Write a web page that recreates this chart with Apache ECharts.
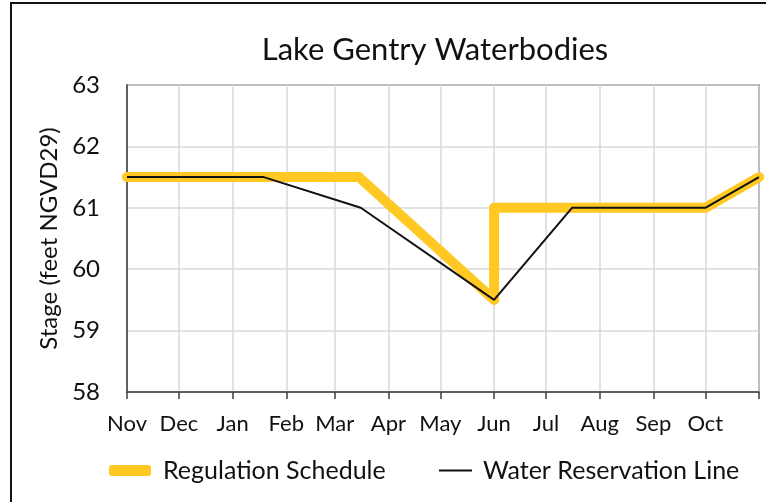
<!DOCTYPE html>
<html>
<head>
<meta charset="utf-8">
<script src="https://cdn.jsdelivr.net/npm/echarts@6/dist/echarts.min.js"></script>
<style>html,body{margin:0;padding:0;background:#fff;}#c{width:766px;height:502px;}</style>
</head>
<body>
<div id="c"></div>
<script>
// Month start positions (days from Nov 1) and labels
const monthDays = [0, 30, 61, 92, 120, 151, 181, 212, 242, 273, 304, 334, 365];
const monthLabels = ['Nov','Dec','Jan','Feb','Mar','Apr','May','Jun','Jul','Aug','Sep','Oct',''];
const yTicks = [58, 59, 60, 61, 62, 63];

// Regulation Schedule: [day, stage]
const regDays = [0, 134, 212, 212, 334, 365];
const regStage = [61.5, 61.5, 59.5, 61.0, 61.0, 61.5];
// Water Reservation Line: [day, stage]
const wrlDays = [0, 79, 135, 212, 257, 334, 365];
const wrlStage = [61.5, 61.5, 61.0, 59.5, 61.0, 61.0, 61.5];

const FONT = 'Lato';
const chart = echarts.init(document.getElementById('c'), null, {renderer: 'canvas'});
chart.setOption({
  animation: false,
  backgroundColor: '#fff',
  title: {
    text: 'Lake Gentry Waterbodies',
    left: 430, textAlign: 'center', top: 29,
    textStyle: {fontFamily: FONT, fontSize: 31, fontWeight: 'normal', color: '#111'}
  },
  graphic: [{
    type: 'rect', shape: {x: 11, y: 3, width: 800, height: 600},
    style: {fill: 'none', stroke: '#111', lineWidth: 2}, silent: true
  }],
  grid: {left: 127, right: 7, top: 85, bottom: 110, show: true, borderColor: '#404040', borderWidth: 1.5, backgroundColor: 'transparent'},
  xAxis: {
    type: 'value', min: 0, max: 365,
    axisLine: {show: true, lineStyle: {color: '#404040', width: 1.5}},
    axisTick: {show: true, inside: false, length: 7, customValues: monthDays, lineStyle: {color: '#404040', width: 1.5}},
    axisLabel: {
      customValues: monthDays.slice(0, 12), margin: 21,
      fontFamily: FONT, fontSize: 22, color: '#111',
      formatter: v => monthLabels[monthDays.indexOf(v)] || ''
    },
    splitLine: {show: true, lineStyle: {color: '#d9d9d9', width: 1.5}}
  },
  yAxis: {
    type: 'value', min: yTicks[0], max: yTicks[yTicks.length - 1], interval: 1,
    name: 'Stage (feet NGVD29)', nameLocation: 'middle', nameGap: 64,
    nameTextStyle: {fontFamily: FONT, fontSize: 24, color: '#111'},
    axisLine: {show: true, lineStyle: {color: '#404040', width: 1.5}},
    axisTick: {show: false},
    axisLabel: {margin: 27, fontFamily: FONT, fontSize: 24, color: '#111'},
    splitLine: {show: true, lineStyle: {color: '#d9d9d9', width: 1.5}}
  },
  legend: [{
    data: ['Regulation Schedule'], left: 104, top: 453,
    icon: 'roundRect', itemWidth: 42, itemHeight: 11,
    textStyle: {fontFamily: FONT, fontSize: 25, color: '#111', padding: [0, 0, 0, 7]}
  }, {
    data: ['Water Reservation Line'], left: 434, top: 453,
    icon: 'rect', itemWidth: 33, itemHeight: 2,
    textStyle: {fontFamily: FONT, fontSize: 25, color: '#111', padding: [0, 0, 0, 6]}
  }],
  series: [{
    name: 'Regulation Schedule', type: 'line', showSymbol: false,
    data: regDays.map((d, i) => [d, regStage[i]]),
    lineStyle: {color: '#FFC822', width: 10, cap: 'round', join: 'round'},
    itemStyle: {color: '#FFC822'}, z: 2
  }, {
    name: 'Water Reservation Line', type: 'line', showSymbol: false,
    data: wrlDays.map((d, i) => [d, wrlStage[i]]),
    lineStyle: {color: '#111', width: 2},
    itemStyle: {color: '#111'}, z: 3
  }]
});
</script>
</body>
</html>
